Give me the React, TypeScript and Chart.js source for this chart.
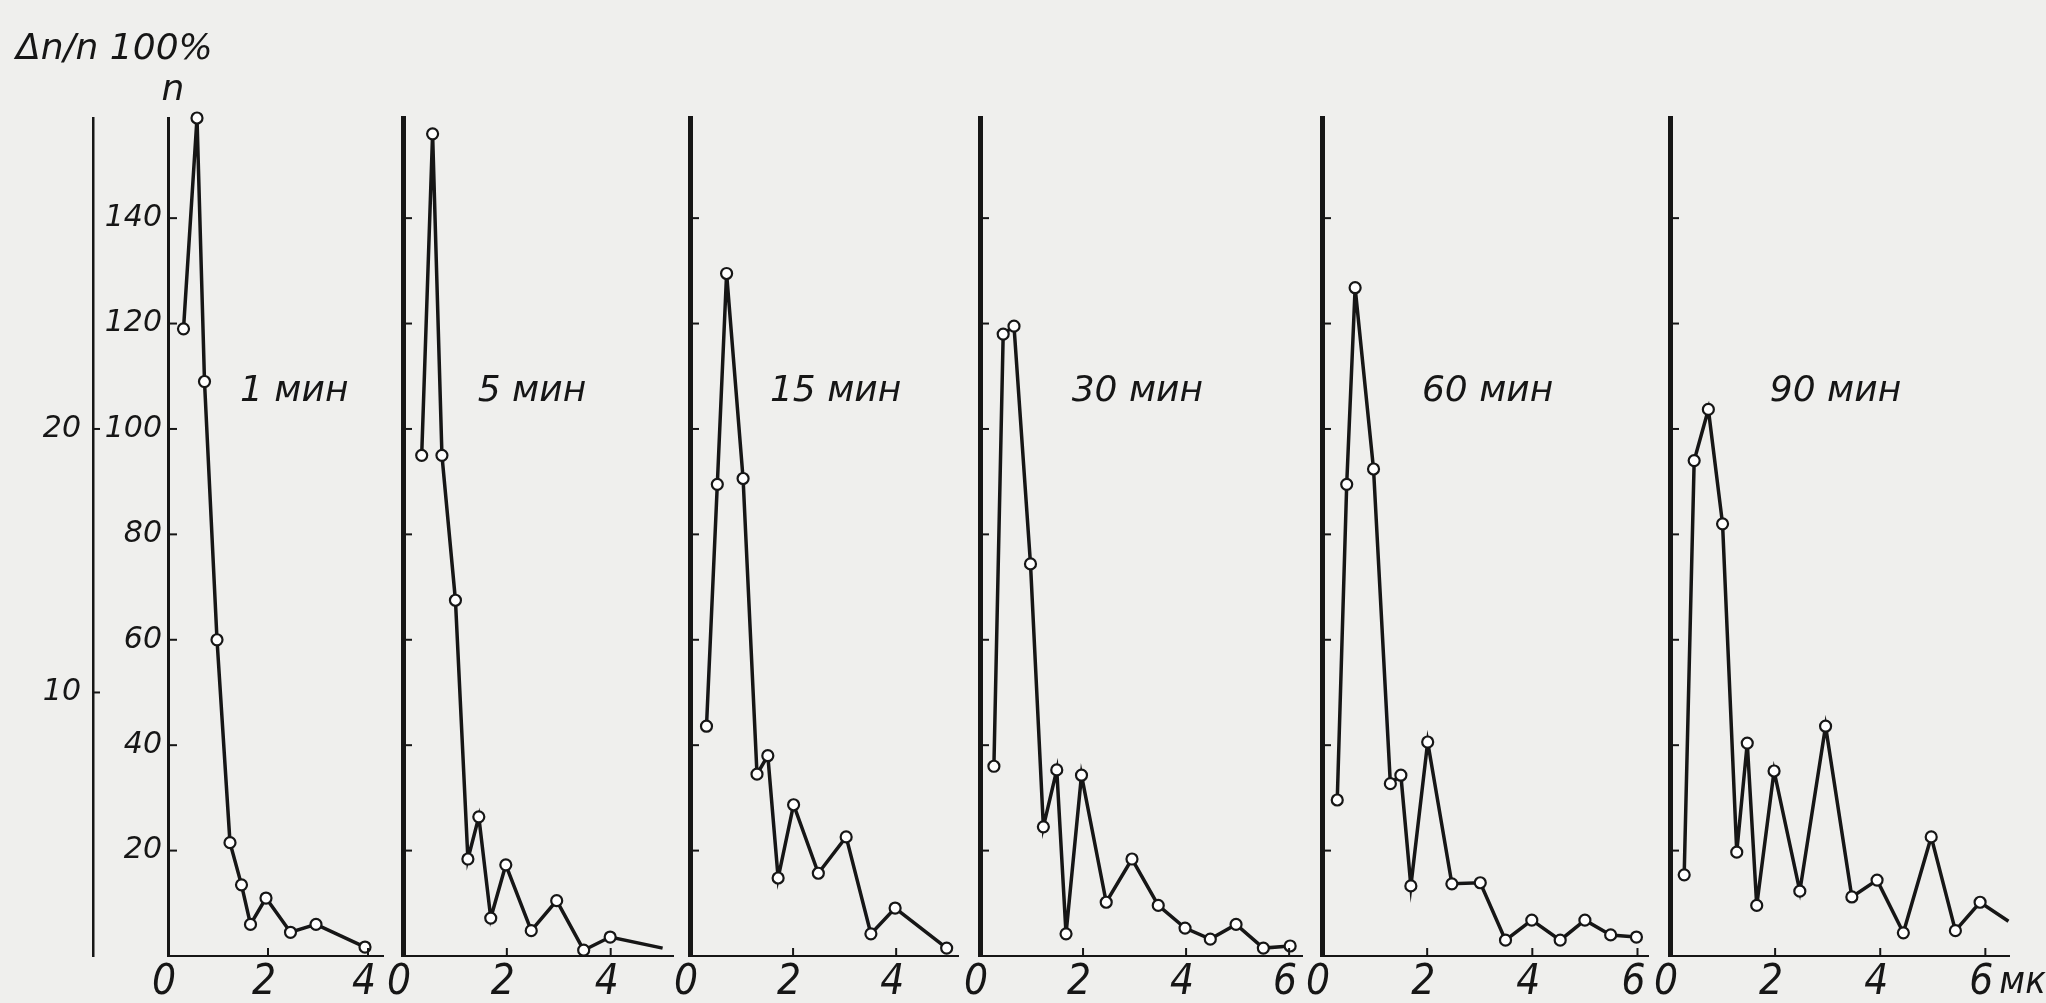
import { useEffect, useRef } from "react";
import { Chart, registerables } from "chart.js";

Chart.register(...registerables);

// ---------------- data ----------------
const panelTitles = ["1 мин", "5 мин", "15 мин", "30 мин", "60 мин", "90 мин"];

// particle size, мк  /  number of particles n
const size1 = [0.31, 0.58, 0.73, 0.98, 1.24, 1.47, 1.65, 1.96, 2.45, 2.96, 3.94];
const count1 = [119, 159, 109, 60, 21.5, 13.5, 6, 11, 4.5, 6, 1.7];

const size2 = [0.36, 0.57, 0.75, 1.01, 1.25, 1.46, 1.69, 1.98, 2.47, 2.96, 3.48, 3.99, 5.0];
const count2 = [95, 156, 95, 67.5, 18.4, 26.4, 7.2, 17.3, 4.8, 10.5, 1.1, 3.6, 1.5];

const size3 = [0.32, 0.53, 0.71, 1.03, 1.3, 1.51, 1.71, 2.01, 2.49, 3.03, 3.51, 3.98, 4.98];
const count3 = [43.6, 89.5, 129.5, 90.6, 34.5, 38, 14.8, 28.7, 15.7, 22.6, 4.2, 9.1, 1.5];

const size4 = [0.27, 0.45, 0.66, 0.98, 1.23, 1.49, 1.67, 1.97, 2.45, 2.95, 3.46, 3.98, 4.47, 4.97, 5.5, 6.02];
const count4 = [36, 118, 119.5, 74.4, 24.5, 35.3, 4.2, 34.3, 10.2, 18.4, 9.6, 5.3, 3.2, 6.0, 1.5, 1.9];

const size5 = [0.29, 0.47, 0.63, 0.98, 1.3, 1.5, 1.69, 2.01, 2.47, 3.01, 3.49, 3.99, 4.53, 5.0, 5.49, 5.98];
const count5 = [29.6, 89.5, 126.8, 92.4, 32.7, 34.3, 13.3, 40.6, 13.7, 13.9, 3.0, 6.8, 3.0, 6.8, 4.0, 3.6];

const size6 = [0.27, 0.46, 0.73, 1.0, 1.27, 1.47, 1.65, 1.98, 2.47, 2.96, 3.46, 3.94, 4.44, 4.97, 5.43, 5.9, 6.44];
const count6 = [15.4, 94, 103.7, 82, 19.7, 40.4, 9.6, 35.1, 12.3, 43.6, 11.2, 14.4, 4.4, 22.6, 4.8, 10.2, 6.6];

const countTicks = [20, 40, 60, 80, 100, 120, 140];
const relativeTicks = [10, 20];
const sizeTicksShort = [0, 2, 4];
const sizeTicksLong = [0, 2, 4, 6];

const unitLabel = "мк";
const relAxisTitle = "Δn/n 100%";
const countAxisTitle = "n";

// ---------------- layout / style ----------------
const INK = "#161616";
const FONT = '"DejaVu Sans"';
const NARROW = '"Liberation Sans Narrow", "DejaVu Sans Condensed", "DejaVu Sans"';
const COUNT_MAX = 159;
const REL_RATIO = 5; // n = 5 · Δn/n

type PanelCfg = {
  sizes: number[];
  counts: number[];
  ticks: number[];
  title: string;
  axisX: number;
  unit: number;
  xMax: number;
  titleX: number;
  openEnd: boolean;
  first: boolean;
  last: boolean;
};

const panels: PanelCfg[] = [
  { sizes: size1, counts: count1, ticks: sizeTicksShort, title: panelTitles[0], axisX: 168, unit: 50, xMax: 4.3, titleX: 1.44, openEnd: false, first: true, last: false },
  { sizes: size2, counts: count2, ticks: sizeTicksShort, title: panelTitles[1], axisX: 403, unit: 52, xMax: 5.2, titleX: 1.44, openEnd: true, first: false, last: false },
  { sizes: size3, counts: count3, ticks: sizeTicksShort, title: panelTitles[2], axisX: 690, unit: 51.5, xMax: 5.2, titleX: 1.55, openEnd: false, first: false, last: false },
  { sizes: size4, counts: count4, ticks: sizeTicksLong, title: panelTitles[3], axisX: 980, unit: 51.5, xMax: 6.25, titleX: 1.78, openEnd: false, first: false, last: false },
  { sizes: size5, counts: count5, ticks: sizeTicksLong, title: panelTitles[4], axisX: 1322, unit: 52.5, xMax: 6.2, titleX: 1.9, openEnd: false, first: false, last: false },
  { sizes: size6, counts: count6, ticks: sizeTicksLong, title: panelTitles[5], axisX: 1670, unit: 52.5, xMax: 6.45, titleX: 1.9, openEnd: true, first: false, last: true },
];

const TOP = 118;
const X_AXIS_H = 47;
const CANVAS_H = 1003;
const OUTER_W = 93;
const INNER_W = 75;

const inkPlugin = {
  id: "ink",
  afterDraw(chart: any, _args: any, opts: any) {
    const { ctx, chartArea, scales } = chart;
    const x = scales.x;
    const y = scales.y;
    ctx.save();
    ctx.strokeStyle = INK;
    ctx.fillStyle = INK;
    ctx.lineWidth = 2;
    ctx.lineCap = "butt";
    // inward ticks on count axis
    for (const t of y.ticks) {
      const py = y.getPixelForValue(t.value);
      ctx.beginPath();
      ctx.moveTo(chartArea.left, py);
      ctx.lineTo(chartArea.left + 9, py);
      ctx.stroke();
    }
    // inward ticks on relative axis
    if (scales.y2) {
      const y2 = scales.y2;
      for (const t of y2.ticks) {
        const py = y2.getPixelForValue(t.value);
        ctx.beginPath();
        ctx.moveTo(y2.right, py);
        ctx.lineTo(y2.right + 7, py);
        ctx.stroke();
      }
    }
    // upward ticks on size axis
    for (const t of x.ticks) {
      if (t.value === 0) continue;
      const px = x.getPixelForValue(t.value);
      ctx.beginPath();
      ctx.moveTo(px, chartArea.bottom);
      ctx.lineTo(px, chartArea.bottom - 8);
      ctx.stroke();
    }
    // panel title
    ctx.font = `italic 36px ${FONT}`;
    ctx.textAlign = "left";
    ctx.textBaseline = "middle";
    ctx.fillText(opts.title, x.getPixelForValue(opts.titleX), y.getPixelForValue(107));
    // unit after last tick
    if (opts.unit) {
      ctx.font = `italic 38px ${NARROW}`;
      ctx.textBaseline = "middle";
      ctx.fillText(opts.unit, x.getPixelForValue(6) + 14, chartArea.bottom + 27);
    }
    // axis titles
    if (opts.axisTitles) {
      ctx.font = `italic 36px ${FONT}`;
      ctx.textBaseline = "middle";
      ctx.textAlign = "left";
      ctx.fillText(relAxisTitle, 16, chartArea.top - 68);
      ctx.textAlign = "center";
      ctx.fillText(countAxisTitle, chartArea.left + 5, chartArea.top - 27);
    }
    ctx.restore();
  },
};

function Panel({ cfg }: { cfg: PanelCfg }) {
  const ref = useRef<HTMLCanvasElement>(null);
  const padLeft = cfg.first ? 0 : 30;
  const padRight = cfg.last ? 40 : 14;
  const leftBoxes = cfg.first ? OUTER_W + INNER_W : 0;
  const width = Math.round(padLeft + leftBoxes + cfg.xMax * cfg.unit + padRight);
  const left = cfg.axisX - padLeft - leftBoxes;

  useEffect(() => {
    const canvas = ref.current;
    if (!canvas) return;
    const lastIdx = cfg.sizes.length - 1;
    const tickFont = { family: FONT, size: 30, style: "italic" as const };
    const scales: any = {
      x: {
        type: "linear",
        min: 0,
        max: cfg.xMax,
        afterBuildTicks: (s: any) => {
          s.ticks = cfg.ticks.map((v) => ({ value: v }));
        },
        afterFit: (s: any) => {
          s.height = X_AXIS_H;
        },
        grid: { display: false, drawTicks: false },
        border: { display: true, color: INK, width: 2 },
        ticks: {
          color: INK,
          font: { family: NARROW, size: 42, style: "italic" },
          padding: 2,
          labelOffset: -4,
          maxRotation: 0,
          autoSkip: false,
        },
      },
      y: {
        type: "linear",
        position: "left",
        weight: 0,
        min: 0,
        max: COUNT_MAX,
        afterBuildTicks: (s: any) => {
          s.ticks = countTicks.map((v) => ({ value: v }));
        },
        afterFit: (s: any) => {
          s.width = cfg.first ? INNER_W : 0;
        },
        grid: { display: false, drawTicks: false },
        border: { display: true, color: INK, width: cfg.first ? 3 : 5 },
        ticks: { display: cfg.first, color: INK, font: tickFont, padding: 6, autoSkip: false },
      },
    };
    if (cfg.first) {
      scales.y2 = {
        type: "linear",
        position: "left",
        weight: 1,
        min: 0,
        max: COUNT_MAX / REL_RATIO,
        afterBuildTicks: (s: any) => {
          s.ticks = relativeTicks.map((v) => ({ value: v }));
        },
        afterFit: (s: any) => {
          s.width = OUTER_W;
        },
        grid: { display: false, drawTicks: false },
        border: { display: true, color: INK, width: 2.5 },
        ticks: { color: INK, font: tickFont, padding: 12, autoSkip: false },
      };
    }

    const chart = new Chart(canvas, {
      type: "line",
      data: {
        datasets: [
          {
            data: cfg.sizes.map((s, i) => ({ x: s, y: cfg.counts[i] })),
            borderColor: INK,
            borderWidth: 3.5,
            pointRadius: cfg.sizes.map((_, i) => (cfg.openEnd && i === lastIdx ? 0 : 5.5)),
            pointBackgroundColor: "#ffffff",
            pointBorderColor: INK,
            pointBorderWidth: 2.2,
            tension: 0,
            clip: false as any,
          },
        ],
      },
      options: {
        animation: false,
        responsive: false,
        maintainAspectRatio: false,
        devicePixelRatio: 1,
        layout: { padding: { left: padLeft, right: padRight, top: TOP, bottom: 0 } },
        plugins: {
          legend: { display: false },
          tooltip: { enabled: false },
          ink: {
            title: cfg.title,
            titleX: cfg.titleX,
            unit: cfg.last ? unitLabel : "",
            axisTitles: cfg.first,
          },
        } as any,
        scales,
      },
      plugins: [inkPlugin],
    });
    return () => chart.destroy();
  }, []);

  return (
    <canvas
      ref={ref}
      width={width}
      height={CANVAS_H}
      style={{ position: "absolute", left, top: 0, width, height: CANVAS_H }}
    />
  );
}

export default function App() {
  return (
    <div
      style={{
        position: "absolute",
        left: 0,
        top: 0,
        width: 2046,
        height: 1003,
        background: "#efefed",
        overflow: "hidden",
      }}
    >
      {panels.map((p, i) => (
        <Panel key={i} cfg={p} />
      ))}
    </div>
  );
}
